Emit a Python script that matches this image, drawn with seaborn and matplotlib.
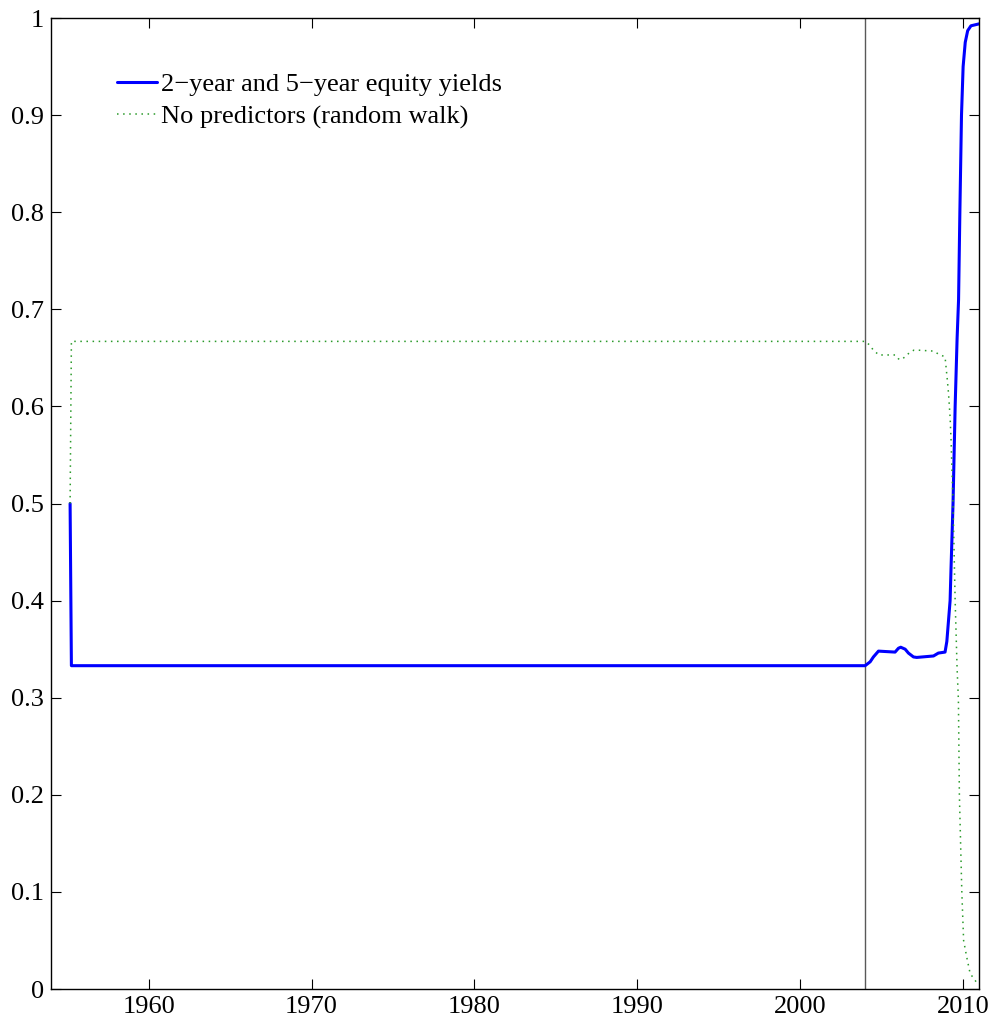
import matplotlib
matplotlib.use("Agg")
import matplotlib.pyplot as plt
import seaborn as sns
import pandas as pd

# ---- data ----
blue_years = [1955.17, 1955.25, 2004.0, 2004.31, 2004.51, 2004.82, 2005.84, 2006.05,
              2006.19, 2006.46, 2006.66, 2006.97, 2007.17, 2008.2, 2008.5, 2008.91,
              2009.02, 2009.22, 2009.28, 2009.4, 2009.53, 2009.65, 2009.74, 2009.82,
              2009.92, 2010.02, 2010.15, 2010.3, 2010.5, 2011.0]
blue_vals = [0.5, 0.333, 0.333, 0.337, 0.342, 0.348, 0.347, 0.351,
             0.352, 0.350, 0.346, 0.342, 0.3415, 0.343, 0.346, 0.347,
             0.358, 0.40, 0.435, 0.5, 0.6, 0.67, 0.71, 0.80,
             0.90, 0.95, 0.975, 0.987, 0.992, 0.994]

green_years = [1955.17, 1955.25, 2004.0, 2004.3, 2004.5, 2004.85, 2005.85, 2006.05,
               2006.2, 2006.45, 2006.7, 2007.0, 2007.2, 2008.2, 2008.5, 2008.91,
               2009.04, 2009.12, 2009.22, 2009.28, 2009.4, 2009.53, 2009.65, 2009.73,
               2009.79, 2009.94, 2010.05, 2010.24, 2010.45, 2010.88, 2011.0]
green_vals = [0.5, 0.667, 0.667, 0.663, 0.658, 0.653, 0.653, 0.649,
              0.648, 0.651, 0.655, 0.658, 0.658, 0.657, 0.654, 0.651,
              0.629, 0.614, 0.589, 0.565, 0.5, 0.4, 0.33, 0.298,
              0.2, 0.1, 0.05, 0.033, 0.016, 0.006, 0.006]

series_labels = ["2\u2212year and 5\u2212year equity yields", "No predictors (random walk)"]
vline_year = 2004.0
x_ticks = [1960, 1970, 1980, 1990, 2000, 2010]
y_ticks = [0, 0.1, 0.2, 0.3, 0.4, 0.5, 0.6, 0.7, 0.8, 0.9, 1]
y_tick_labels = ["0", "0.1", "0.2", "0.3", "0.4", "0.5", "0.6", "0.7", "0.8", "0.9", "1"]

# ---- styling ----
sns.set_style("ticks")
plt.rcParams["font.family"] = ["Liberation Serif", "DejaVu Serif"]
plt.rcParams["text.color"] = "black"
plt.rcParams["xtick.direction"] = "in"
plt.rcParams["ytick.direction"] = "in"

fig = plt.figure(figsize=(9.95, 10.25), dpi=100)
ax = fig.add_axes([0.0513, 0.0351, 0.9327, 0.9473])

df_blue = pd.DataFrame({"year": blue_years, "p": blue_vals})
df_green = pd.DataFrame({"year": green_years, "p": green_vals})

sns.lineplot(data=df_blue, x="year", y="p", ax=ax, color="#0000ff", lw=2.2,
             label=series_labels[0], sort=False, estimator=None)
sns.lineplot(data=df_green, x="year", y="p", ax=ax, color="#2a9a2a", lw=1.1,
             linestyle=(0, (1, 3)), label=series_labels[1], sort=False, estimator=None)

ax.axvline(vline_year, color="0.35", lw=1.0, zorder=1)

ax.set_xlim(1954, 2011)
ax.set_ylim(0, 1)
ax.set_xticks(x_ticks)
ax.set_xticklabels([str(t) for t in x_ticks])
ax.set_yticks(y_ticks)
ax.set_yticklabels(y_tick_labels)
ax.set_xlabel("")
ax.set_ylabel("")

for s in ax.spines.values():
    s.set_visible(True)
    s.set_color("black")
    s.set_linewidth(1.0)

ax.tick_params(axis="both", which="both", direction="in", length=7, width=0.8,
               top=True, right=True, labelsize=19, colors="black", pad=5)

leg = ax.legend(loc="upper left", bbox_to_anchor=(0.06, 0.955), frameon=False,
                fontsize=19, handlelength=1.5, handletextpad=0.15, labelspacing=0.36,
                borderaxespad=0)
for t in leg.get_texts():
    t.set_color("black")

fig.savefig("out.png", dpi=100)
